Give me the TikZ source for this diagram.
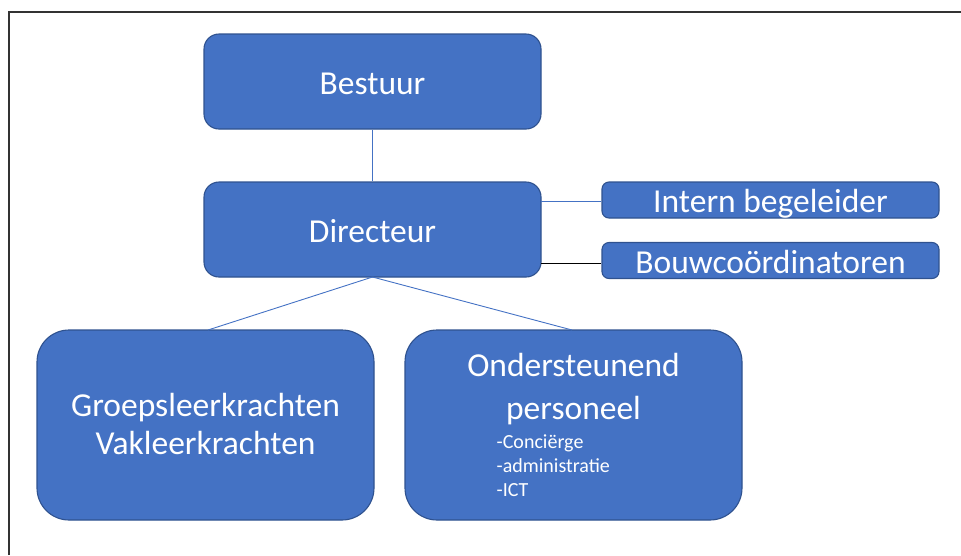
\documentclass[tikz,border=0pt]{standalone}
\usepackage{fontspec}
\setmainfont{Carlito}
\definecolor{boxfill}{HTML}{4472C4}
\definecolor{boxline}{HTML}{2F528F}
\definecolor{conn}{HTML}{4472C4}
\definecolor{frame}{HTML}{333333}
\begin{document}
\begin{tikzpicture}[x=1pt,y=-1pt,
  box/.style={draw=boxline,fill=boxfill,line width=1.1pt,text=white,inner sep=0pt,align=center,
    text height=25.6pt,text depth=0pt,font=\fontsize{33.5}{41}\selectfont},
  bigbox/.style={box,rounded corners=15pt,minimum width=337pt,minimum height=95pt},
  smallbox/.style={box,rounded corners=7pt,minimum width=337pt,minimum height=36pt},
  basebox/.style={draw=boxline,fill=boxfill,line width=1.1pt,inner sep=0pt,rounded corners=32pt,minimum width=337pt,minimum height=190pt},
  conline/.style={draw=conn,line width=0.9pt},
  blackline/.style={draw=black,line width=0.9pt},
  bigtext/.style={text=white,inner sep=0pt,anchor=base,font=\fontsize{33.5}{41}\selectfont},
  listtext/.style={text=white,inner sep=0pt,anchor=base west,font=\fontsize{20}{24}\selectfont}
]
\useasboundingbox (0,0) rectangle (961,555);
\draw[frame,line width=1.3pt] (9,555) -- (9,12) -- (961,12);

\node[bigbox] (bestuur) at (372.5,81.5) {Bestuur};
\node[bigbox] (directeur) at (372.5,229.5) {Directeur};
\node[smallbox] (intern) at (770.5,200) {Intern begeleider};
\node[smallbox] (bouw) at (770.5,260.5) {Bouwcoördinatoren};
\node[basebox] (groep) at (205.5,425) {};
\node[basebox] (onder) at (573.5,425) {};

\node[bigtext] (groep1) at (205.5,416) {Groepsleerkrachten};
\node[bigtext] (groep2) at (205.5,454) {Vakleerkrachten};
\node[bigtext] (onder1) at (573.5,376.7) {Ondersteunend};
\node[bigtext] (onder2) at (573.5,419.3) {personeel};
\node[listtext] (lijst1) at (496.5,448.3) {-Conciërge};
\node[listtext] (lijst2) at (496.5,472.3) {-administratie};
\node[listtext] (lijst3) at (496.5,496.7) {-ICT};

\coordinate (dirR1) at (541,201);
\coordinate (dirR2) at (541,263);
\coordinate (dirB) at (372.5,277);
\coordinate (groepT) at (208,330);
\coordinate (onderT) at (572,330);

\draw[conline] (bestuur.south) -- (directeur.north);
\draw[conline] (dirR1) -- (intern.west |- dirR1);
\draw[blackline] (dirR2) -- (bouw.west |- dirR2);
\draw[conline] (dirB) -- (groepT);
\draw[conline] (dirB) -- (onderT);
\end{tikzpicture}
\end{document}
